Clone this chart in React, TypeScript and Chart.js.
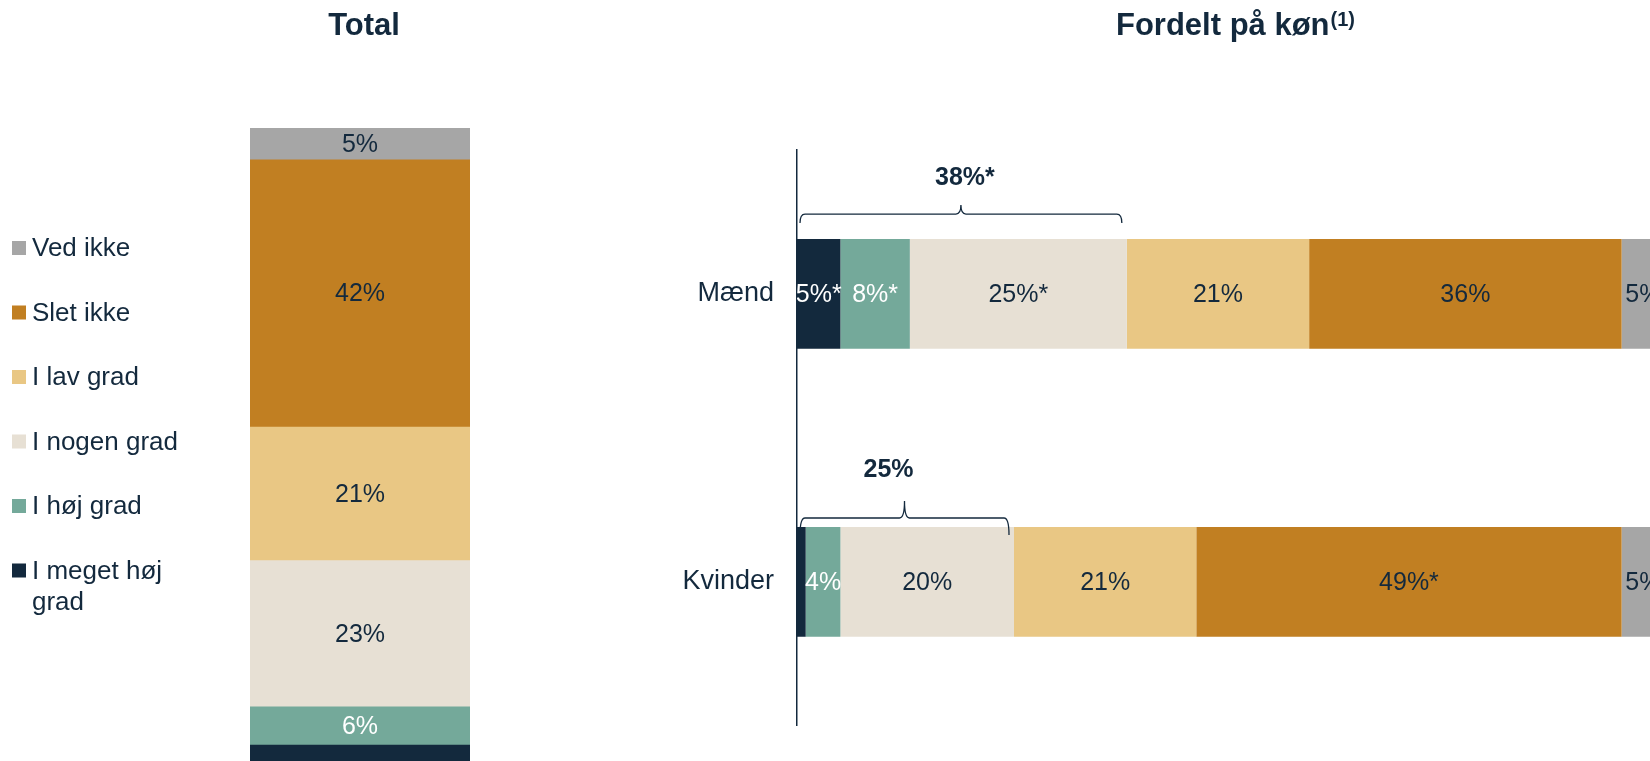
import React, { useEffect, useRef } from "react";
import { Chart, registerables } from "chart.js";

Chart.register(...registerables);

// ---------- data ----------
const seriesNames = ["I meget høj grad", "I høj grad", "I nogen grad", "I lav grad", "Slet ikke", "Ved ikke"];
const totalCategories = ["Total"];
const totalValues = [3, 6, 23, 21, 42, 5];

const genderCategories = ["Mænd", "Kvinder"];
const maendValues = [5, 8, 25, 21, 36, 5];
const kvinderValues = [1, 4, 20, 21, 49, 5];
const maendSignificant = [true, true, true, false, false, false];
const kvinderSignificant = [false, false, false, false, true, false];

const bracketTotals = [38, 25];
const bracketSignificant = [true, false];

const totalTitle = "Total";
const genderTitle = "Fordelt på køn";
const genderTitleNote = "(1)";

// ---------- styles ----------
const NAVY = "#13293D";
const seriesColors = ["#13293D", "#74A99A", "#E7E0D4", "#E9C784", "#C17F22", "#A6A6A6"];
const labelColors = ["#FFFFFF", "#FFFFFF", NAVY, NAVY, NAVY, NAVY];
const FONT = "'Liberation Sans', Arial, Helvetica, sans-serif";
const MIN_LABEL = 4;

const fmt = (v: number, sig: boolean) => `${v}%${sig ? "*" : ""}`;

const segLabels = {
  id: "segLabels",
  afterDatasetsDraw(chart: any, _args: any, opts: any) {
    const ctx = chart.ctx;
    const ca = chart.chartArea;
    const sigs: boolean[][] | undefined = opts && opts.significance;
    ctx.save();
    ctx.beginPath();
    ctx.rect(ca.left, ca.top, ca.right - ca.left, ca.bottom - ca.top);
    ctx.clip();
    ctx.font = `25px ${FONT}`;
    ctx.textAlign = "center";
    ctx.textBaseline = "middle";
    chart.data.datasets.forEach((ds: any, di: number) => {
      const meta = chart.getDatasetMeta(di);
      meta.data.forEach((el: any, i: number) => {
        const v = ds.data[i];
        if (v < MIN_LABEL) return;
        const sig = sigs ? !!sigs[i][di] : false;
        const p = el.getCenterPoint();
        ctx.fillStyle = labelColors[di];
        ctx.fillText(fmt(v, sig), p.x, p.y + 1);
      });
    });
    ctx.restore();
  },
};

const leftDecor = {
  id: "leftDecor",
  afterDraw(chart: any) {
    const ctx = chart.ctx;
    const ca = chart.chartArea;
    ctx.save();
    // title
    ctx.fillStyle = NAVY;
    ctx.font = `bold 31px ${FONT}`;
    ctx.textAlign = "center";
    ctx.textBaseline = "alphabetic";
    ctx.fillText(totalTitle, (ca.left + ca.right) / 2 + 4, 35);
    // legend (reverse order)
    ctx.font = `26px ${FONT}`;
    ctx.textAlign = "left";
    ctx.textBaseline = "middle";
    const ds = chart.data.datasets;
    for (let k = 0; k < ds.length; k++) {
      const si = ds.length - 1 - k;
      const yc = 248 + k * 64.5;
      ctx.fillStyle = ds[si].backgroundColor;
      ctx.fillRect(12, yc - 7, 14, 14);
      ctx.fillStyle = NAVY;
      const words = String(ds[si].label).split(" ");
      const lines: string[] = [];
      let cur = "";
      for (const w of words) {
        const t = cur ? cur + " " + w : w;
        if (ctx.measureText(t).width > 165 && cur) {
          lines.push(cur);
          cur = w;
        } else cur = t;
      }
      lines.push(cur);
      lines.forEach((ln, li) => ctx.fillText(ln, 32, yc + 1 + li * 31));
    }
    ctx.restore();
  },
};

const bracketStyle = [
  { lineAbove: 25, tail: 9, peak: 9, labelAbove: 36, labelDx: 4 },
  { lineAbove: 9, tail: 17, peak: 17, labelAbove: 48, labelDx: -16 },
];

const rightDecor = {
  id: "rightDecor",
  afterDraw(chart: any) {
    const ctx = chart.ctx;
    const xs = chart.scales.x;
    const meta0 = chart.getDatasetMeta(0);
    ctx.save();
    // title with superscript
    ctx.fillStyle = NAVY;
    ctx.textBaseline = "alphabetic";
    ctx.textAlign = "left";
    ctx.font = `bold 31px ${FONT}`;
    const w1 = ctx.measureText(genderTitle).width;
    ctx.font = `bold 20px ${FONT}`;
    const w2 = ctx.measureText(genderTitleNote).width;
    const cx = 635;
    const sx = cx - (w1 + w2) / 2;
    ctx.font = `bold 31px ${FONT}`;
    ctx.fillText(genderTitle, sx, 35);
    ctx.font = `bold 20px ${FONT}`;
    ctx.fillText(genderTitleNote, sx + w1 + 1, 26);

    // brackets
    ctx.strokeStyle = NAVY;
    ctx.lineWidth = 1.3;
    bracketTotals.forEach((tot, i) => {
      const el = meta0.data[i];
      const barTop = el.y - el.height / 2;
      const st = bracketStyle[i];
      const x1 = xs.getPixelForValue(0) + 3;
      const x2 = xs.getPixelForValue(tot) - 5;
      const xm = (x1 + x2) / 2;
      const yl = barTop - st.lineAbove;
      const r = 5;
      ctx.beginPath();
      ctx.moveTo(x1, yl + st.tail);
      ctx.quadraticCurveTo(x1, yl, x1 + r, yl);
      ctx.lineTo(xm - r, yl);
      ctx.quadraticCurveTo(xm, yl, xm, yl - st.peak);
      ctx.quadraticCurveTo(xm, yl, xm + r, yl);
      ctx.lineTo(x2 - r, yl);
      ctx.quadraticCurveTo(x2, yl, x2, yl + st.tail);
      ctx.stroke();
      ctx.font = `bold 25px ${FONT}`;
      ctx.textAlign = "center";
      ctx.textBaseline = "middle";
      ctx.fillStyle = NAVY;
      ctx.fillText(fmt(tot, bracketSignificant[i]), xm + st.labelDx, yl - st.labelAbove);
    });
    ctx.restore();
  },
};

// the right canvas is drawn a little taller than the page so that the
// axis label padding Chart.js reserves at the bottom falls outside the view
const RIGHT_H = 765;

export default function App() {
  const leftRef = useRef<HTMLCanvasElement | null>(null);
  const rightRef = useRef<HTMLCanvasElement | null>(null);

  useEffect(() => {
    const left = new Chart(leftRef.current as HTMLCanvasElement, {
      type: "bar",
      data: {
        labels: totalCategories,
        datasets: seriesNames.map((name, si) => ({
          label: name,
          data: [totalValues[si]],
          backgroundColor: seriesColors[si],
          borderWidth: 0,
          categoryPercentage: 1,
          barPercentage: 1,
        })),
      },
      options: {
        animation: false,
        responsive: false,
        maintainAspectRatio: false,
        layout: { padding: { left: 250, right: 600 - 470, top: 128, bottom: 0 } },
        scales: {
          x: { stacked: true, display: false },
          y: { stacked: true, display: false, min: 0.5, max: 100 },
        },
        plugins: {
          legend: { display: false },
          tooltip: { enabled: false },
          segLabels: {},
        } as any,
      },
      plugins: [segLabels, leftDecor],
    });

    const right = new Chart(rightRef.current as HTMLCanvasElement, {
      type: "bar",
      data: {
        labels: genderCategories,
        datasets: seriesNames.map((name, si) => ({
          label: name,
          data: [maendValues[si], kvinderValues[si]],
          backgroundColor: seriesColors[si],
          borderWidth: 0,
          categoryPercentage: 1,
          barPercentage: 0.381,
        })),
      },
      options: {
        indexAxis: "y",
        animation: false,
        responsive: false,
        maintainAspectRatio: false,
        layout: { padding: { left: 0, right: 0, top: 150, bottom: 38 } },
        scales: {
          x: { stacked: true, display: false, min: 0, max: 98.27 },
          y: {
            stacked: true,
            grid: { display: false, drawTicks: false },
            border: { display: true, color: NAVY, width: 1.5 },
            ticks: { color: NAVY, font: { size: 27, family: FONT }, padding: 23 },
            afterFit: (scale: any) => {
              scale.width = 197;
            },
          },
        },
        plugins: {
          legend: { display: false },
          tooltip: { enabled: false },
          segLabels: { significance: [maendSignificant, kvinderSignificant] },
        } as any,
      },
      plugins: [segLabels, rightDecor],
    });

    return () => {
      left.destroy();
      right.destroy();
    };
  }, []);

  return (
    <div style={{ position: "fixed", left: 0, top: 0, width: 1650, height: 761, background: "#fff", overflow: "hidden" }}>
      <canvas ref={leftRef} width={600} height={761} style={{ position: "absolute", left: 0, top: 0, width: 600, height: 761 }} />
      <canvas ref={rightRef} width={1050} height={RIGHT_H} style={{ position: "absolute", left: 600, top: 0, width: 1050, height: RIGHT_H }} />
    </div>
  );
}
